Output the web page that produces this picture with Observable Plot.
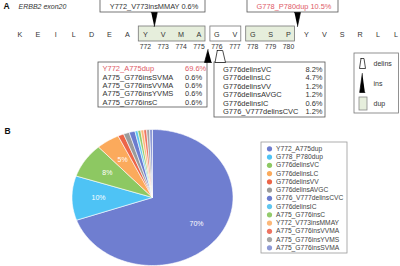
<!DOCTYPE html>
<html><head><meta charset="utf-8">
<script src="https://cdn.jsdelivr.net/npm/d3@7"></script>
<script src="https://cdn.jsdelivr.net/npm/@observablehq/plot@0.6"></script>
<style>body{margin:0;background:#fff}</style>
</head><body><div id="chart"></div>
<script>
// ---------- data ----------
const residues = ["K","E","I","L","D","E","A","Y","V","M","A","G","V","G","S","P","Y","V","S","R","L","L"];
const residueNumbers = [772,773,774,775,776,777,778,779,780];
const numberedFrom = 7; // index of Y772
const residueBoxes = [
  {from: 7, to: 10, kind: "dup"},
  {from: 11, to: 12, kind: "plain"},
  {from: 13, to: 15, kind: "dup"}
];
const topCallouts = [
  {label: "Y772_V773insMMAY 0.6%", red: false, after: 7},
  {label: "G778_P780dup 10.5%", red: true, after: 15}
];
const dupInsNames = ["Y772_A775dup","A775_G776insSVMA","A775_G776insVVMA","A775_G776insYVMS","A775_G776insC"];
const dupInsPct = ["69.6%","0.6%","0.6%","0.6%","0.6%"];
const delinsNames = ["G776delinsVC","G776delinsLC","G776delinsVV","G776delinsAVGC","G776delinsIC","G776_V777delinsCVC"];
const delinsPct = ["8.2%","4.7%","1.2%","1.2%","0.6%","1.2%"];
const keyLabels = ["delins","ins","dup"];

const mutationNames = ["Y772_A775dup","G778_P780dup","G776delinsVC","G776delinsLC","G776delinsVV","G776delinsAVGC","G776_V777delinsCVC","G776delinsIC","A775_G776insC","Y772_V773insMMAY","A775_G776insVVMA","A775_G776insYVMS","A775_G776insSVMA"];
const mutationCounts = [119,18,14,8,2,2,2,1,1,1,1,1,1];
const mutationColors = ["#6f7ed0","#4ec3f5","#8dc862","#fbaa5c","#ec6548","#9b9b9b","#6b7ccf","#5fc6f0","#93cb6c","#fcb87a","#ee7461","#a6a6a6","#8e9ad6"];

// ---------- layout helpers ----------
const ink = "#333", red = "#de5b67", dupFill = "#e6eedc";
const resX = i => 19.5 + 17.9 * i;
const seqY = 34, numY = 46;

const texts = [];
const rects = [];
const shapes = []; // polygons: {g, x, y, fill, stroke}
let gid = 0;
function poly(pts, fill, stroke) { const g = gid++; pts.forEach(([x, y]) => shapes.push({g, x, y, fill, stroke})); }

// panel labels
texts.push({x: 3, y: 6, t: "A", s: 8.5, w: "bold", a: "start", c: "#111"});
texts.push({x: 18, y: 6, t: "ERBB2 exon20", s: 7, st: "italic", a: "start", c: ink});
texts.push({x: 4, y: 131, t: "B", s: 8.5, w: "bold", a: "start", c: "#111"});

// sequence
residueBoxes.forEach(b => rects.push({x1: resX(b.from) - 6.5, x2: resX(b.to) + 6.5, y1: 26, y2: 41, fill: b.kind === "dup" ? dupFill : "#fff", stroke: "#777", sw: 0.8}));
residues.forEach((r, i) => texts.push({x: resX(i), y: seqY, t: r, s: 7.2, a: "middle", c: ink}));
residueNumbers.forEach((n, k) => texts.push({x: resX(numberedFrom + k), y: numY, t: String(n), s: 6.8, a: "middle", c: ink}));

// top callouts
topCallouts.forEach((c, k) => {
  const px = (resX(c.after) + resX(c.after + 1)) / 2;
  const x1 = k === 0 ? 100 : 247, x2 = k === 0 ? 205 : 338;
  rects.push({x1, x2, y1: -1, y2: 12, fill: "#fff", stroke: "#555", sw: 0.8});
  texts.push({x: (x1 + x2) / 2 + 1, y: 5.8, t: c.label, s: 7.4, a: "middle", c: c.red ? red : ink});
  poly([[px - 3, 12], [px + 3, 12], [px, 26]], "#000", "#000");
});

// mutation boxes
rects.push({x1: 98, x2: 207, y1: 62, y2: 107, fill: "#fff", stroke: "#555", sw: 0.8});
rects.push({x1: 214, x2: 325, y1: 62, y2: 117, fill: "#fff", stroke: "#555", sw: 0.8});
dupInsNames.forEach((n, i) => {
  const y = 68.5 + 8.3 * i, c = i === 0 ? red : ink;
  texts.push({x: 102, y, t: n, s: 7.5, a: "start", c});
  texts.push({x: 184.5, y, t: dupInsPct[i], s: 7.5, a: "start", c});
});
delinsNames.forEach((n, i) => {
  const y = 69 + 8.4 * i;
  texts.push({x: 222.5, y, t: n, s: 7.5, a: "start", c: ink});
  texts.push({x: 322, y, t: delinsPct[i], s: 7.5, a: "end", c: ink});
});
// ins / delins glyphs at the boxes
poly([[207.5, 49], [204, 62], [211, 62]], "#000", "#000");
poly([[216.8, 50], [222.2, 50], [225, 62], [214.5, 62], [216.8, 50]], "#fff", "#000");

// key box
rects.push({x1: 354, x2: 398.5, y1: 53, y2: 113, fill: "#fff", stroke: "#777", sw: 0.8});
poly([[360.5, 58], [363.5, 58], [365, 68], [359, 68], [360.5, 58]], "#fff", "#000");
poly([[361.8, 73], [359.2, 92], [364.4, 92]], "#000", "#000");
rects.push({x1: 359, x2: 367, y1: 97, y2: 110, fill: dupFill, stroke: "#888", sw: 0.8});
keyLabels.forEach((l, i) => texts.push({x: 373, y: [63, 83, 103][i], t: l, s: 7, a: "start", c: ink}));

// ---------- pie ----------
const pieCx = 152, pieCy = 197, pieRx = 80.5, pieRy = 68;
const arcs = d3.pie().sort(null).value(d => d)(mutationCounts);
const total = d3.sum(mutationCounts);
// largest-remainder rounding of percentages (sums to 100)
const raw = mutationCounts.map(v => v / total * 100);
const pct = raw.map(Math.floor);
let left = 100 - d3.sum(pct);
d3.range(raw.length).sort((a, b) => (raw[b] - pct[b]) - (raw[a] - pct[a])).forEach(i => { if (left > 0) { pct[i]++; left--; } });

const slicePts = [];
arcs.forEach((a, k) => {
  const n = Math.max(2, Math.ceil((a.endAngle - a.startAngle) / 0.02));
  slicePts.push({k, x: pieCx, y: pieCy});
  for (let j = 0; j <= n; j++) {
    const t = a.startAngle + (a.endAngle - a.startAngle) * j / n;
    slicePts.push({k, x: pieCx + pieRx * Math.sin(t), y: pieCy - pieRy * Math.cos(t)});
  }
  slicePts.push({k, x: pieCx, y: pieCy});
});
const pieLabels = arcs.map((a, k) => ({a, k})).filter(({k}) => pct[k] >= 3).map(({a, k}) => {
  const m = (a.startAngle + a.endAngle) / 2;
  return {x: pieCx + 0.67 * pieRx * Math.sin(m), y: pieCy - 0.67 * pieRy * Math.cos(m), t: pct[k] + "%"};
});

// pie legend
const legendItems = mutationNames.map((n, i) => ({n, i, y: 148.3 + 8.25 * i}));

const textMarks = [];
for (const anchor of ["start", "middle", "end"]) for (const w of ["normal", "bold"]) for (const st of ["normal", "italic"]) {
  const sub = texts.filter(d => d.a === anchor && (d.w || "normal") === w && (d.st || "normal") === st);
  if (sub.length) textMarks.push(Plot.text(sub, {x: "x", y: "y", text: "t", fontSize: "s", fill: "c", textAnchor: anchor, lineAnchor: "middle", fontWeight: w, fontStyle: st}));
}

const chart = Plot.plot({
  width: 400, height: 266, margin: 0,
  x: {domain: [0, 400], range: [0, 400], axis: null},
  y: {domain: [0, 266], range: [0, 266], axis: null},
  color: {type: "identity"},
  style: {fontFamily: "Liberation Sans, Arial, sans-serif", background: "#fff", overflow: "hidden"},
  marks: [
    Plot.rect(rects, {x1: "x1", x2: "x2", y1: "y1", y2: "y2", fill: "fill", stroke: "stroke", strokeWidth: d => d.sw}),
    Plot.line(shapes, {x: "x", y: "y", z: "g", fill: "fill", stroke: "stroke", strokeWidth: 0.7, curve: "linear", strokeLinejoin: "miter"}),
    ...textMarks,
    // pie
    Plot.line(slicePts, {x: "x", y: "y", z: "k", fill: d => mutationColors[d.k], stroke: "#fff", strokeWidth: 0.6, curve: "linear"}),
    Plot.text(pieLabels, {x: "x", y: "y", text: "t", fill: "#fff", fontSize: 7, lineAnchor: "middle"}),
    // legend
    Plot.rect([{x1: 261, x2: 347, y1: 142, y2: 253}], {x1: "x1", x2: "x2", y1: "y1", y2: "y2", fill: "#fff", stroke: "#999", strokeWidth: 0.8}),
    Plot.dot(legendItems, {x: 269, y: "y", r: 2.6, fill: d => mutationColors[d.i], stroke: null}),
    Plot.text(legendItems, {x: 275.5, y: "y", text: "n", fill: "#444", fontSize: 6.7, textAnchor: "start", lineAnchor: "middle"})
  ]
});
document.getElementById("chart").appendChild(chart);
</script>
</body></html>
